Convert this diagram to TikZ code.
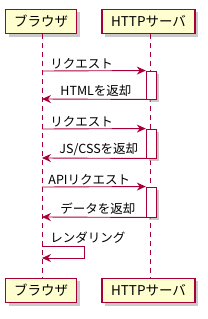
\documentclass[tikz,border=0pt]{standalone}
\usepackage{fontspec}
\setmainfont{Noto Sans CJK JP}
\usepackage{xcolor}
\usetikzlibrary{arrows.meta,positioning,shadows}

\definecolor{umlred}{HTML}{A80036}
\definecolor{umlfill}{HTML}{FEFECE}

\begin{document}
\begin{tikzpicture}[
  x=1pt, y=-1pt,
  font=\fontsize{12.5}{14}\selectfont,
  >={Stealth[length=9pt, width=8pt, inset=3pt]},
  part/.style={draw=umlred, line width=1.2pt, fill=umlfill, minimum height=24.5pt,
               inner xsep=0pt, font=\fontsize{13.5}{15}\selectfont,
               drop shadow={shadow xshift=3pt, shadow yshift=-3pt, fill=black!35, opacity=0.6}},
  life/.style={umlred, line width=0.9pt, dash pattern=on 5pt off 4pt},
  act/.style={draw=umlred, line width=0.9pt, fill=white, minimum width=10.5pt, inner sep=0pt,
              drop shadow={shadow xshift=2.5pt, shadow yshift=-2.5pt, fill=black!35, opacity=0.6}},
  msg/.style={->, umlred, line width=0.9pt},
  lab/.style={text=black, inner xsep=0pt, inner ysep=2pt}
]
\useasboundingbox (0,0) rectangle (208,319);

% ---------- participants ----------
\node[part, minimum width=71pt]  (brTop) at (41,21.5)  {ブラウザ};
\node[part, minimum width=93pt]  (svTop) at (148.5,21.5) {HTTPサーバ};
\node[part, minimum width=71pt]  (brBot) at (41,290.5)  {ブラウザ};
\node[part, minimum width=93pt]  (svBot) at (148.5,290.5) {HTTPサーバ};

% lifelines
\coordinate (brL) at (42,0);
\coordinate (svL) at (150,0);
\draw[life] (brL |- brTop.south) -- (brL |- brBot.north);
\draw[life] (svL |- svTop.south) -- (svL |- svBot.north);

% ---------- activations ----------
\node[act, minimum height=28pt] (act1) at (151.5,85)  {};
\node[act, minimum height=29pt] (act2) at (151.5,143.5) {};
\node[act, minimum height=30pt] (act3) at (151.5,202)  {};

% ---------- messages ----------
\coordinate (b1) at (42,71);  \coordinate (r1) at (42,99);
\coordinate (b2) at (42,129); \coordinate (r2) at (42,158);
\coordinate (b3) at (42,187); \coordinate (r3) at (42,217);

\draw[msg] (b1) -- node[lab, at start, anchor=south west, xshift=8pt] {リクエスト} (act1.north west);
\draw[msg] (act1.south west) -- node[lab, at end, anchor=south west, xshift=18pt] {HTMLを返却} (r1);
\draw[msg] (b2) -- node[lab, at start, anchor=south west, xshift=8pt] {リクエスト} (act2.north west);
\draw[msg] (act2.south west) -- node[lab, at end, anchor=south west, xshift=17pt] {JS/CSSを返却} (r2);
\draw[msg] (b3) -- node[lab, at start, anchor=south west, xshift=6pt] {APIリクエスト} (act3.north west);
\draw[msg] (act3.south west) -- node[lab, at end, anchor=south west, xshift=18pt] {データを返却} (r3);

% self message
\coordinate (s1) at (42,246);
\coordinate (s2) at (42,258);
\draw[msg] (s1) -- node[lab, at start, anchor=south west, xshift=8pt] {レンダリング} ++(42,0) |- (s2);

\end{tikzpicture}
\end{document}
